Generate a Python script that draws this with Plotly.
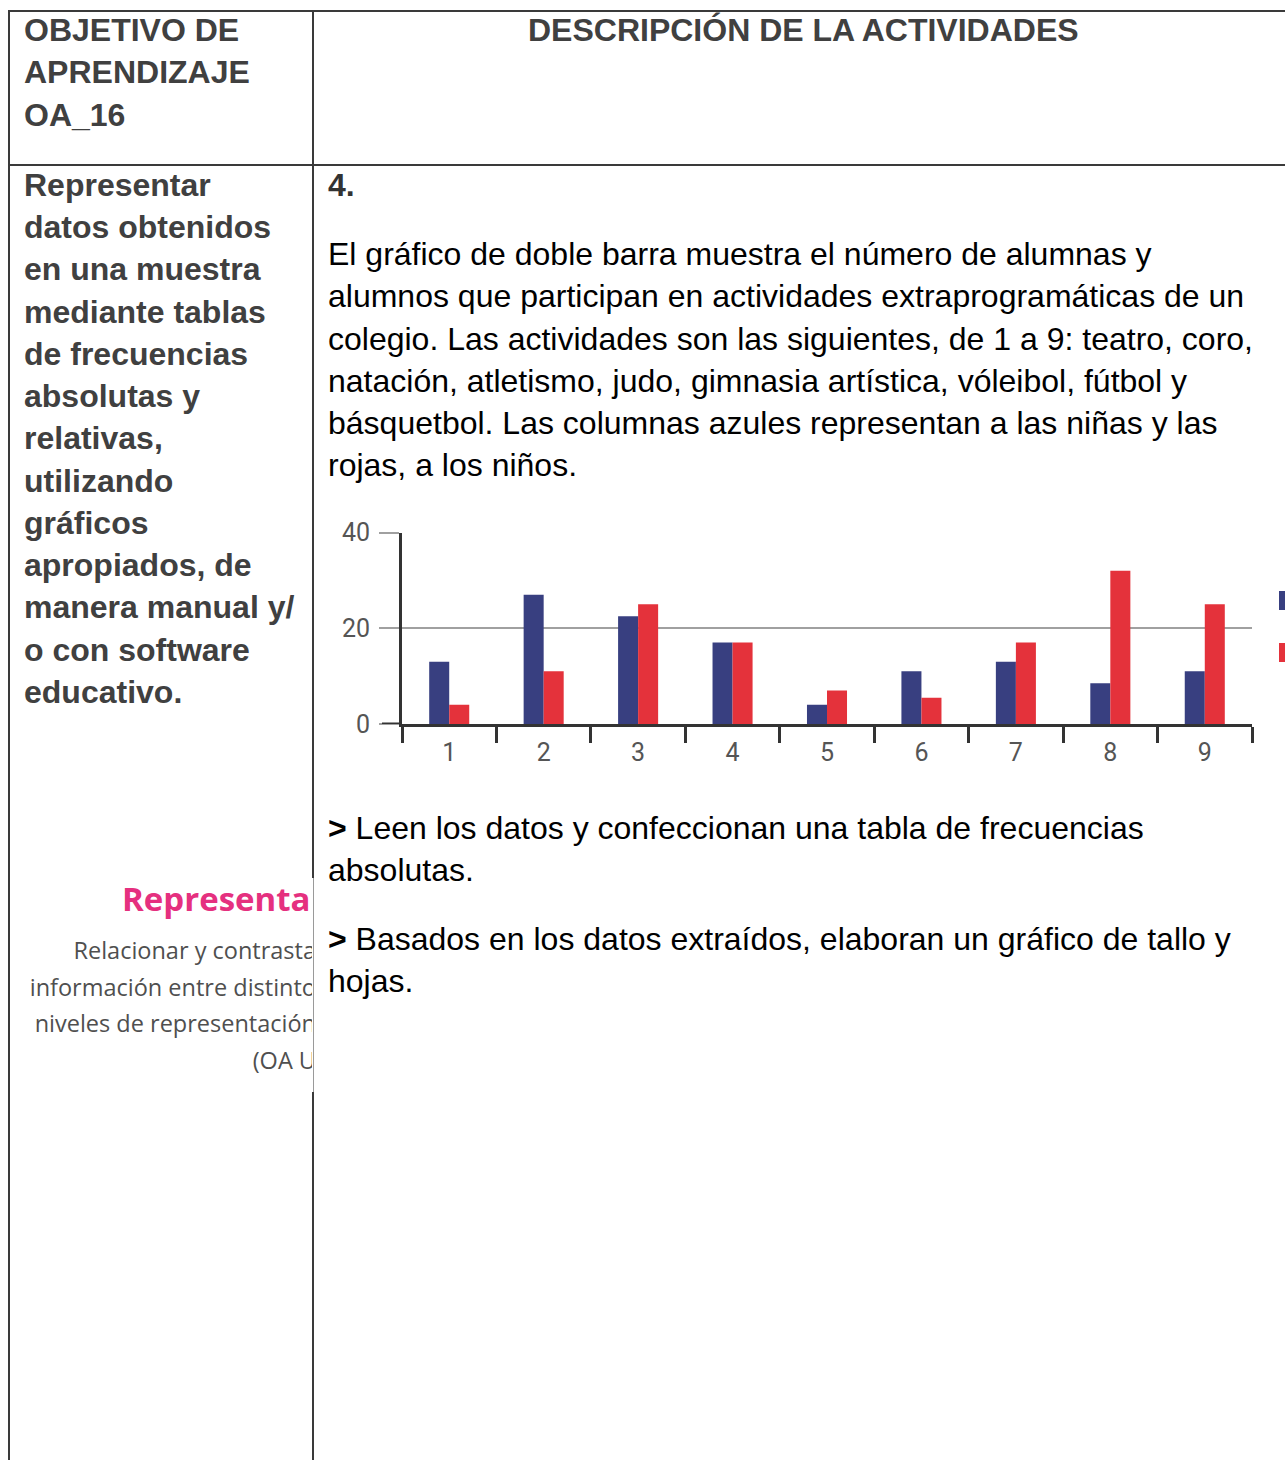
import plotly.graph_objects as go

# ---------------- data ----------------
categories = ["1", "2", "3", "4", "5", "6", "7", "8", "9"]
ninas = [13, 27, 22.5, 17, 4, 11, 13, 8.5, 11]      # azul
ninos = [4, 11, 25, 17, 7, 5.5, 17, 32, 25]         # rojo
y_ticks = [0, 20, 40]

header_left = ["OBJETIVO DE", "APRENDIZAJE", "OA_16"]
header_right = "DESCRIPCIÓN DE LA ACTIVIDADES"
left_lines = ["Representar", "datos obtenidos", "en una muestra", "mediante tablas",
              "de frecuencias", "absolutas y", "relativas,", "utilizando", "gráficos",
              "apropiados, de", "manera manual y/", "o con software", "educativo."]
item_number = "4."
para_lines = ["El gráfico de doble barra muestra el número de alumnas y",
              "alumnos que participan en actividades extraprogramáticas de un",
              "colegio. Las actividades son las siguientes, de 1 a 9: teatro, coro,",
              "natación, atletismo, judo, gimnasia artística, vóleibol, fútbol y",
              "básquetbol. Las columnas azules representan a las niñas y las",
              "rojas, a los niños."]
bullet1 = ["<b>&gt;</b> Leen los datos y confeccionan una tabla de frecuencias", "absolutas."]
bullet2 = ["<b>&gt;</b> Basados en los datos extraídos, elaboran un gráfico de tallo y", "hojas."]
snip_title = "Representar"
snip_lines = ["Relacionar y contrasta", "información entre distinto",
              "niveles de representación", "(OA U"]

# ---------------- geometry helpers ----------------
W, H = 1285, 1460
def X(px): return px / W
def Y(py): return 1 - py / H

BLUE = "#383f80"
RED = "#e4323b"
LINE_C = "#3a3a3a"
TXT_DARK = "#404040"
FONT = "Liberation Sans, Arial, sans-serif"
LH = 42.3

fig = go.Figure()

fig.add_trace(go.Bar(x=categories, y=ninas, marker=dict(color=BLUE, line=dict(width=0)),
                     name="Niñas", hoverinfo="skip"))
fig.add_trace(go.Bar(x=categories, y=ninos, marker=dict(color=RED, line=dict(width=0)),
                     name="Niños", hoverinfo="skip"))

# clipped "image" snippet on the left column
snip_y = [953, 990, 1026, 1063]
fig.add_trace(go.Scatter(x=[122], y=[903], mode="text", text=[snip_title],
                         textposition="middle right", cliponaxis=True, hoverinfo="skip",
                         textfont=dict(family="Open Sans, sans-serif", size=33, color="#e5307f",
                                       weight="bold"),
                         xaxis="x2", yaxis="y2", showlegend=False))
fig.add_trace(go.Scatter(x=[316] * len(snip_lines), y=snip_y, mode="text", text=snip_lines,
                         textposition="middle left", cliponaxis=True, hoverinfo="skip",
                         textfont=dict(family="Open Sans, sans-serif", size=23.5, color="#4f4f4f"),
                         xaxis="x2", yaxis="y2", showlegend=False))

ann = []
def add_text(txt, x, y, size=32, color=TXT_DARK, bold=False, anchor="left"):
    t = f"<b>{txt}</b>" if bold else txt
    ann.append(dict(text=t, x=X(x), y=Y(y), xref="paper", yref="paper",
                    xanchor=anchor, yanchor="middle", showarrow=False,
                    font=dict(family=FONT, size=size, color=color)))

for i, s in enumerate(header_left):
    add_text(s, 22, 30 + LH * i, bold=True)
add_text(header_right, 803, 30, bold=True, anchor="center")
for i, s in enumerate(left_lines):
    add_text(s, 22, 185 + 42.25 * i, bold=True)
add_text(item_number, 326, 185, bold=True, color="#333333")
for i, s in enumerate(para_lines):
    add_text(s, 326, 254 + 42.25 * i, color="#000000")
for i, s in enumerate(bullet1):
    add_text(s, 326, 828 + 42.25 * i, color="#000000")
for i, s in enumerate(bullet2):
    add_text(s, 326, 939 + 42.25 * i, color="#000000")

shapes = []
def hline(y, x0, x1, color=LINE_C, w=2):
    shapes.append(dict(type="line", xref="paper", yref="paper", x0=X(x0), x1=X(x1),
                       y0=Y(y), y1=Y(y), line=dict(color=color, width=w)))
def vline(x, y0, y1, color=LINE_C, w=2):
    shapes.append(dict(type="line", xref="paper", yref="paper", x0=X(x), x1=X(x),
                       y0=Y(y0), y1=Y(y1), line=dict(color=color, width=w)))

hline(11, 8, 1300)
hline(165, 8, 1300)
vline(9, 10, 1470)
vline(313, 10, 878)
vline(313, 1092, 1470)
vline(313.5, 878, 1092, color="#9a9a9a", w=1)

# zero line extension left of the y axis
shapes.append(dict(type="line", xref="paper", yref="y", x0=X(382), x1=X(402), y0=0, y1=0,
                   line=dict(color="#333333", width=3)))
# legend swatches (cut by the page edge)
shapes.append(dict(type="rect", xref="paper", yref="paper", x0=X(1279), x1=X(1295),
                   y0=Y(610), y1=Y(591), fillcolor=BLUE, line=dict(width=0)))
shapes.append(dict(type="rect", xref="paper", yref="paper", x0=X(1279), x1=X(1295),
                   y0=Y(662), y1=Y(643), fillcolor=RED, line=dict(width=0)))

fig.update_layout(
    width=W, height=H, autosize=False,
    margin=dict(l=0, r=0, t=0, b=0, pad=0, autoexpand=False),
    paper_bgcolor="white", plot_bgcolor="white",
    showlegend=False, barmode="group", bargap=0.576, bargroupgap=0,
    annotations=ann, shapes=shapes,
    xaxis=dict(domain=[X(402), X(1252)], type="category", range=[-0.5, 8.5],
               showline=True, linecolor="#333333", linewidth=3,
               ticks="outside", tickson="boundaries", ticklen=16, tickwidth=3,
               tickcolor="#333333", showgrid=False, zeroline=False,
               tickfont=dict(family="Roboto, sans-serif", size=25, color="#555555"),
               ticklabelstandoff=4, automargin=False),
    yaxis=dict(domain=[Y(724), Y(532.5)], range=[0, 40], tickvals=y_ticks,
               showline=True, linecolor="#333333", linewidth=3,
               ticks="outside", ticklen=20, tickwidth=1.5, tickcolor="#a0a0a0",
               showgrid=True, gridcolor="#a0a0a0", gridwidth=1.5, zeroline=False,
               tickfont=dict(family="Roboto, sans-serif", size=25, color="#555555"),
               ticklabelstandoff=4, automargin=False),
    xaxis2=dict(domain=[X(10), X(312)], range=[10, 312], visible=False, anchor="y2"),
    yaxis2=dict(domain=[Y(1092), Y(878)], range=[1092, 878], visible=False, anchor="x2"),
)

fig.write_html("out.html", config={"displayModeBar": False},
               post_script="document.body.style.margin='0';document.body.style.overflow='hidden';")
